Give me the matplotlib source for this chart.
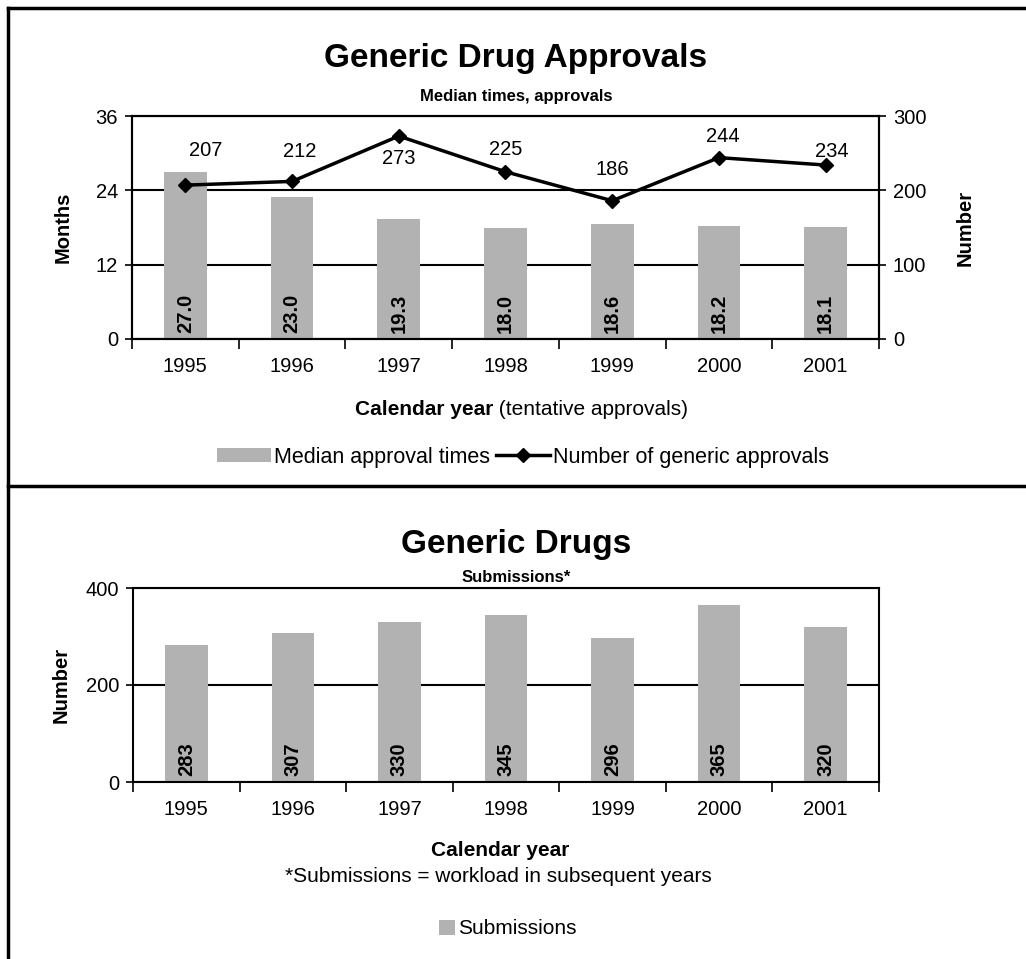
import matplotlib.pyplot as plt
from matplotlib.lines import Line2D
from matplotlib.patches import Patch

plt.rcParams['font.family'] = ['Liberation Sans', 'DejaVu Sans']

# datos
years = ['1995', '1996', '1997', '1998', '1999', '2000', '2001']
median_months = [27.0, 23.0, 19.3, 18.0, 18.6, 18.2, 18.1]
approvals = [207, 212, 273, 225, 186, 244, 234]
submissions = [283, 307, 330, 345, 296, 365, 320]

# desplazamiento (px) de las etiquetas de la linea
label_dx = [20, 8, 0, 0, 0, 4, 6]
label_dy = [35, 30, -22, 22, 31, 21, 14]

GRAY = '#b2b2b2'
W, H = 1026, 959
px = 0.72  # pixeles -> puntos
FS = 14.5  # tamaño base de texto


def box(left, top, right, bottom):
    return [left / W, 1 - bottom / H, (right - left) / W, (bottom - top) / H]


def style_axes(ax, ymax, step):
    n = len(years)
    ax.set_xlim(-0.5, n - 0.5)
    ax.set_ylim(0, ymax)
    ax.set_yticks(range(0, ymax + 1, step))
    ax.set_xticks([i - 0.5 for i in range(n + 1)])
    ax.set_xticklabels([])
    ax.set_xticks(range(n), minor=True)
    ax.set_xticklabels(years, minor=True)
    ax.tick_params(axis='x', which='major', length=7, width=1.2, direction='out')
    ax.tick_params(axis='x', which='minor', length=0, pad=13, labelsize=FS)
    ax.tick_params(axis='y', length=5, width=1.2, pad=5, labelsize=FS)
    ax.yaxis.grid(True, color='black', linewidth=1.5)
    ax.set_axisbelow(True)
    for s in ax.spines.values():
        s.set_linewidth(1.5)


fig = plt.figure(figsize=(W / 100, H / 100), dpi=100)

#******************************************************************************
#******************************* Aprobaciones *********************************
#******************************************************************************
ax1 = fig.add_axes(box(132, 116, 879, 339))
x = range(len(years))
ax1.bar(x, median_months, width=0.4, color=GRAY, zorder=2)
style_axes(ax1, 36, 12)
ax1.set_ylabel('Months', fontsize=FS, fontweight='bold')
ax1.yaxis.set_label_coords(-0.08, 0.5)
for i, v in enumerate(median_months):
    ax1.annotate(f'{v:.1f}', (i, 0), xytext=(0, 4), textcoords='offset points',
                 rotation=90, ha='center', va='bottom', fontsize=FS,
                 fontweight='bold', zorder=3)

ax2 = ax1.twinx()
ax2.plot(x, approvals, color='black', linewidth=2.5, marker='D', markersize=7.5)
ax2.set_ylim(0, 300)
ax2.set_yticks([0, 100, 200, 300])
ax2.tick_params(axis='y', length=5, width=1.2, pad=5, labelsize=FS)
ax2.set_ylabel('Number', fontsize=FS, fontweight='bold')
ax2.yaxis.set_label_coords(1.102, 0.5)
for s in ax2.spines.values():
    s.set_linewidth(1.5)
for i, v in enumerate(approvals):
    ax2.annotate(str(v), (i, v), xytext=(label_dx[i] * px, label_dy[i] * px),
                 textcoords='offset points', ha='center', va='center',
                 fontsize=FS)

fig.text(516 / W, 1 - 59 / H, 'Generic Drug Approvals', ha='center', va='center',
         fontsize=24, fontweight='bold')
fig.text(516 / W, 1 - 97 / H, 'Median times, approvals', ha='center', va='center',
         fontsize=12, fontweight='bold')
fig.text(493 / W, 1 - 410 / H, 'Calendar year', ha='right', va='center',
         fontsize=15, fontweight='bold')
fig.text(493 / W, 1 - 410 / H, ' (tentative approvals)', ha='left', va='center',
         fontsize=15)

handles1 = [Patch(facecolor=GRAY, edgecolor='none'),
            Line2D([], [], color='black', linewidth=2.5, marker='D', markersize=7)]
fig.legend(handles1, ['Median approval times', 'Number of generic approvals'],
           loc='center', bbox_to_anchor=(523 / W, 1 - 457 / H), ncol=2,
           frameon=False, fontsize=15.5, handlelength=2.5, handleheight=0.65,
           handletextpad=0.15, columnspacing=0.25)

#******************************************************************************
#******************************** Solicitudes *********************************
#******************************************************************************
ax3 = fig.add_axes(box(133, 588, 879, 782))
ax3.bar(x, submissions, width=0.4, color=GRAY, zorder=2)
style_axes(ax3, 400, 200)
ax3.set_ylabel('Number', fontsize=FS, fontweight='bold')
ax3.yaxis.set_label_coords(-0.083, 0.5)
for i, v in enumerate(submissions):
    ax3.annotate(str(v), (i, 0), xytext=(0, 4), textcoords='offset points',
                 rotation=90, ha='center', va='bottom', fontsize=FS,
                 fontweight='bold', zorder=3)

fig.text(516 / W, 1 - 545 / H, 'Generic Drugs', ha='center', va='center',
         fontsize=24, fontweight='bold')
fig.text(516 / W, 1 - 578 / H, 'Submissions*', ha='center', va='center',
         fontsize=12, fontweight='bold')
fig.text(500 / W, 1 - 851 / H, 'Calendar year', ha='center', va='center',
         fontsize=15, fontweight='bold')
fig.text(498 / W, 1 - 876 / H, '*Submissions = workload in subsequent years',
         ha='center', va='center', fontsize=15)

fig.legend([Patch(facecolor=GRAY, edgecolor='none')], ['Submissions'],
           loc='center', bbox_to_anchor=(508 / W, 1 - 929 / H), frameon=False,
           fontsize=15, handlelength=0.75, handleheight=0.7, handletextpad=0.15)

# marcos de los paneles
border = dict(color='black', linewidth=2.5, transform=fig.transFigure)
fig.add_artist(Line2D([8 / W, 1], [1 - 8 / H, 1 - 8 / H], **border))
fig.add_artist(Line2D([8 / W, 1], [1 - 486 / H, 1 - 486 / H], **border))
fig.add_artist(Line2D([8 / W, 8 / W], [1 - 8 / H, 0], **border))

fig.savefig('out.png', dpi=100)
